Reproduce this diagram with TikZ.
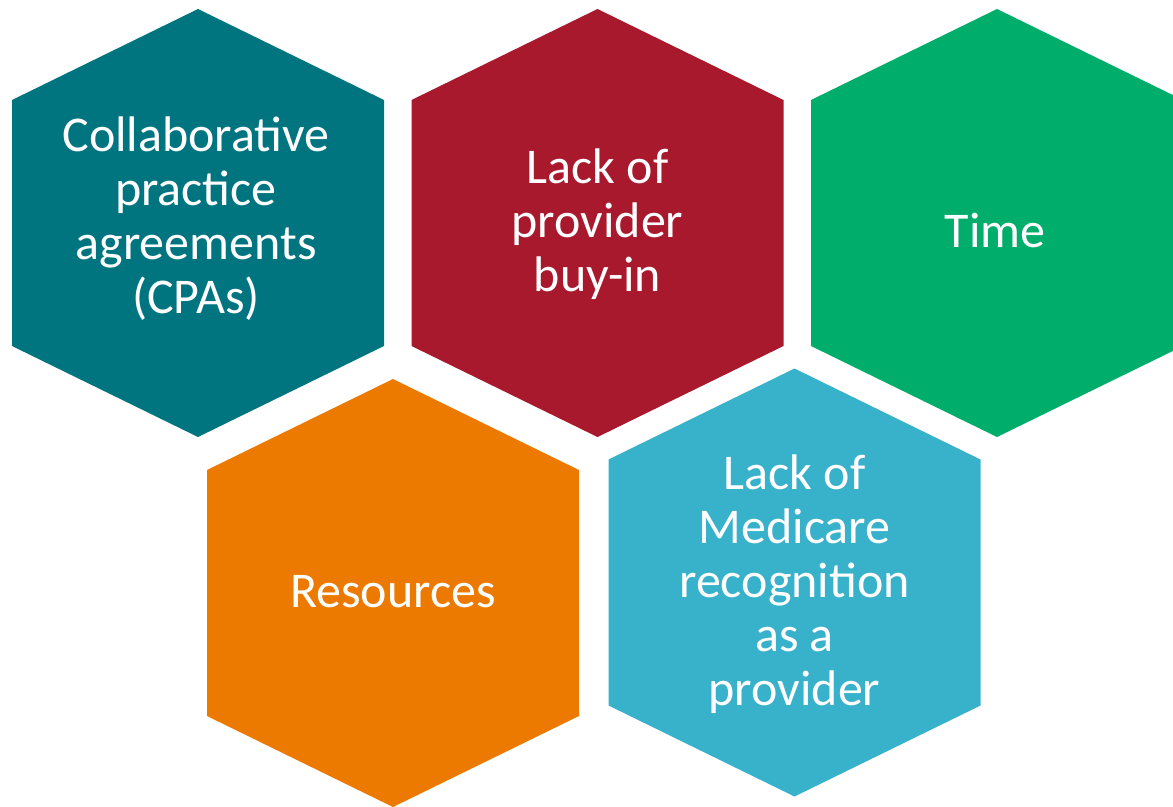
\documentclass[tikz,border=0pt]{standalone}
\usepackage{fontspec}
\setmainfont{Carlito}

\definecolor{hexteal}{RGB}{0,117,128}
\definecolor{hexred}{RGB}{168,25,46}
\definecolor{hexgreen}{RGB}{0,173,107}
\definecolor{hexorange}{RGB}{237,122,0}
\definecolor{hexblue}{RGB}{56,177,203}

\begin{document}
\begin{tikzpicture}[x=0.75pt, y=-0.75pt,
    hexlabel/.style={text=white, align=center, inner sep=0pt,
      font=\fontsize{37.5}{40.5}\selectfont}]
  \useasboundingbox (0,0) rectangle (1173,806);
  \clip (0,0) rectangle (1173,806);
  % hexagon centres
  \coordinate (cpa) at (198,223);
  \coordinate (buyin) at (597.5,223);
  \coordinate (time) at (997,223);
  \coordinate (res) at (393,593);
  \coordinate (medicare) at (794.5,582.5);
  % the hexagons, pointy side up
  \foreach \c/\col in {cpa/hexteal, buyin/hexred, time/hexgreen,
                       res/hexorange, medicare/hexblue}
    \fill[\col] (\c) ++(0,-214) -- ++(186,91) -- ++(0,246) -- ++(-186,91)
      -- ++(-186,-91) -- ++(0,-246) -- cycle;
  % labels
  \node[hexlabel] (cpatext) at (196,218.5) {Collaborative\\practice\\agreements\\(CPAs)};
  \node[hexlabel] (buyintext) at (597.5,224) {Lack of\\provider\\buy-in};
  \node[hexlabel, anchor=base] (timetext) at (995,247) {Time};
  \node[hexlabel, anchor=base] (restext) at (393,607) {Resources};
  \node[hexlabel] (medicaretext) at (794.5,584.5) {Lack of\\Medicare\\recognition\\as a\\provider};
\end{tikzpicture}
\end{document}
